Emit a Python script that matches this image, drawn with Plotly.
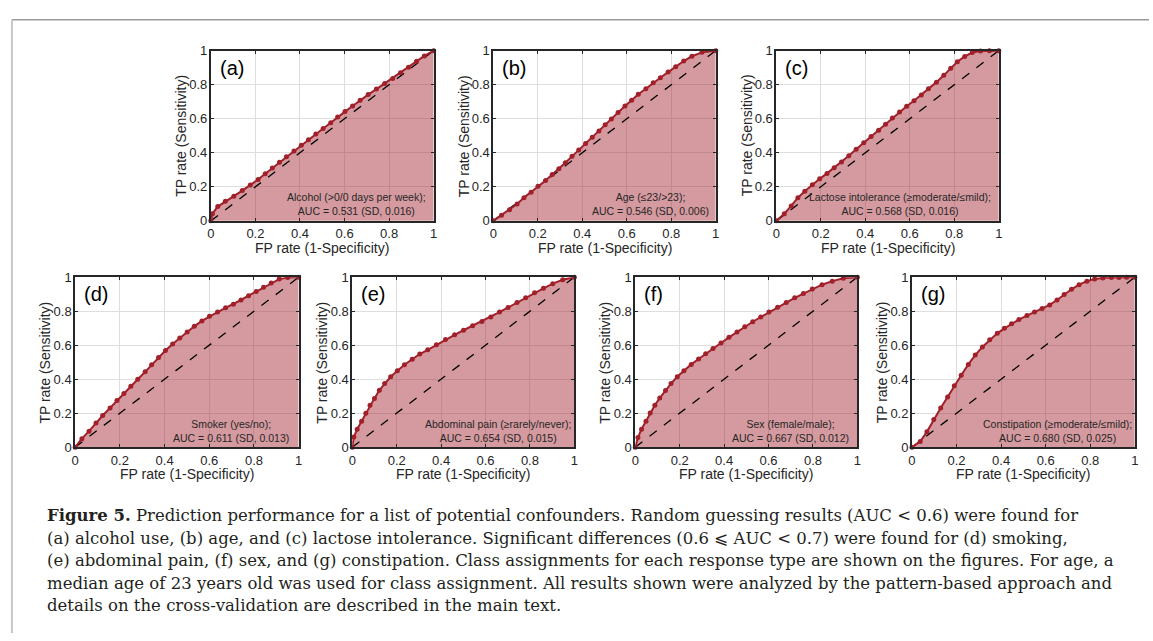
import plotly.graph_objects as go

W, H = 1153, 641

# ---------------- data ----------------
PANEL_LABELS = ["(a)", "(b)", "(c)", "(d)", "(e)", "(f)", "(g)"]
PANEL_NOTES = [
    "Alcohol (>0/0 days per week);<br>AUC = 0.531 (SD, 0.016)",
    "Age (≤23/>23);<br>AUC = 0.546 (SD, 0.006)",
    "Lactose intolerance (≥moderate/≤mild);<br>AUC = 0.568 (SD, 0.016)",
    "Smoker (yes/no);<br>AUC = 0.611 (SD, 0.013)",
    "Abdominal pain (≥rarely/never);<br>AUC = 0.654 (SD, 0.015)",
    "Sex (female/male);<br>AUC = 0.667 (SD, 0.012)",
    "Constipation (≥moderate/≤mild);<br>AUC = 0.680 (SD, 0.025)",
]

FPR_A = [0, 0.007, 0.031, 0.065, 0.103, 0.141, 0.177, 0.212, 0.244, 0.276, 0.308, 0.339, 0.373, 0.406, 0.438, 0.471,
         0.504, 0.538, 0.569, 0.602, 0.636, 0.670, 0.706, 0.743, 0.780, 0.816, 0.851, 0.887, 0.923, 0.958, 1.0]
TPR_A = [0, 0.042, 0.084, 0.115, 0.145, 0.178, 0.210, 0.243, 0.277, 0.310, 0.344, 0.377, 0.411, 0.444, 0.476, 0.511,
         0.543, 0.576, 0.610, 0.642, 0.675, 0.709, 0.742, 0.774, 0.807, 0.837, 0.870, 0.902, 0.937, 0.969, 1.0]

FPR_B = [0, 0.037, 0.073, 0.107, 0.138, 0.170, 0.201, 0.235, 0.265, 0.295, 0.324, 0.354, 0.384, 0.415, 0.445, 0.475,
         0.503, 0.531, 0.561, 0.592, 0.622, 0.652, 0.686, 0.719, 0.751, 0.786, 0.820, 0.856, 0.893, 0.938, 1.0]
TPR_B = [0, 0.033, 0.065, 0.099, 0.136, 0.168, 0.203, 0.237, 0.272, 0.306, 0.342, 0.379, 0.417, 0.455, 0.491, 0.528,
         0.564, 0.598, 0.637, 0.675, 0.709, 0.744, 0.776, 0.811, 0.841, 0.874, 0.906, 0.939, 0.967, 0.990, 1.0]

FPR_C = [0, 0.036, 0.067, 0.097, 0.128, 0.162, 0.195, 0.228, 0.260, 0.293, 0.326, 0.359, 0.393, 0.426, 0.460, 0.491,
         0.522, 0.554, 0.586, 0.619, 0.652, 0.684, 0.720, 0.753, 0.784, 0.814, 0.847, 0.881, 0.918, 0.958, 1.0]
TPR_C = [0, 0.042, 0.088, 0.136, 0.174, 0.212, 0.247, 0.279, 0.312, 0.346, 0.382, 0.421, 0.459, 0.495, 0.532, 0.568,
         0.604, 0.639, 0.673, 0.706, 0.740, 0.776, 0.815, 0.855, 0.897, 0.935, 0.966, 0.989, 0.998, 1.0, 1.0]

FPR_D = [0, 0.030, 0.062, 0.093, 0.123, 0.156, 0.187, 0.218, 0.249, 0.280, 0.313, 0.342, 0.373, 0.404, 0.436, 0.468,
         0.501, 0.533, 0.567, 0.601, 0.637, 0.673, 0.708, 0.742, 0.776, 0.810, 0.843, 0.877, 0.913, 0.951, 1.0]
TPR_D = [0, 0.050, 0.094, 0.142, 0.186, 0.230, 0.274, 0.316, 0.358, 0.400, 0.443, 0.485, 0.527, 0.569, 0.607, 0.642,
         0.678, 0.711, 0.743, 0.770, 0.795, 0.820, 0.841, 0.866, 0.891, 0.916, 0.941, 0.966, 0.989, 0.998, 1.0]

FPR_E = [0, 0.007, 0.022, 0.042, 0.061, 0.080, 0.100, 0.122, 0.146, 0.173, 0.203, 0.235, 0.270, 0.304, 0.340, 0.379,
         0.420, 0.461, 0.501, 0.542, 0.584, 0.624, 0.663, 0.702, 0.742, 0.781, 0.821, 0.861, 0.903, 0.948, 1.0]
TPR_E = [0, 0.059, 0.105, 0.153, 0.199, 0.247, 0.287, 0.335, 0.374, 0.414, 0.450, 0.485, 0.517, 0.548, 0.573, 0.603,
         0.634, 0.661, 0.688, 0.715, 0.739, 0.766, 0.795, 0.822, 0.851, 0.879, 0.908, 0.935, 0.962, 0.985, 1.0]

FPR_F = [0, 0.012, 0.028, 0.048, 0.067, 0.088, 0.110, 0.136, 0.161, 0.189, 0.219, 0.252, 0.285, 0.317, 0.350, 0.386,
         0.422, 0.458, 0.493, 0.529, 0.565, 0.602, 0.641, 0.680, 0.718, 0.757, 0.797, 0.841, 0.887, 0.937, 1.0]
TPR_F = [0, 0.057, 0.105, 0.153, 0.201, 0.247, 0.289, 0.333, 0.374, 0.414, 0.450, 0.487, 0.519, 0.550, 0.580, 0.613,
         0.646, 0.678, 0.709, 0.738, 0.766, 0.795, 0.824, 0.851, 0.879, 0.904, 0.931, 0.956, 0.977, 0.994, 1.0]

FPR_G = [0, 0.037, 0.067, 0.098, 0.129, 0.160, 0.190, 0.221, 0.253, 0.284, 0.316, 0.349, 0.383, 0.415, 0.447, 0.480,
         0.516, 0.550, 0.584, 0.618, 0.651, 0.683, 0.716, 0.750, 0.785, 0.820, 0.857, 0.895, 0.929, 0.963, 1.0]
TPR_G = [0, 0.033, 0.090, 0.163, 0.230, 0.295, 0.362, 0.423, 0.487, 0.542, 0.590, 0.632, 0.670, 0.699, 0.726, 0.751,
         0.774, 0.795, 0.816, 0.837, 0.866, 0.898, 0.929, 0.956, 0.977, 0.989, 0.996, 0.998, 0.998, 1.0, 1.0]

CHANCE_X = [0, 1]
CHANCE_Y = [0, 1]

TICK_VALS = [0, 0.2, 0.4, 0.6, 0.8, 1]
TICK_TEXT = ["0", "0.2", "0.4", "0.6", "0.8", "1"]

X_TITLE = "FP rate (1-Specificity)"
Y_TITLE = "TP rate (Sensitivity)"

CAPTION_LINES = [
    "<b>Figure 5.</b> Prediction performance for a list of potential confounders. Random guessing results (AUC &lt; 0.6) were found for",
    "(a) alcohol use, (b) age, and (c) lactose intolerance. Significant differences (0.6 ⩽ AUC &lt; 0.7) were found for (d) smoking,",
    "(e) abdominal pain, (f) sex, and (g) constipation. Class assignments for each response type are shown on the figures. For age, a",
    "median age of 23 years old was used for class assignment. All results shown were analyzed by the pattern-based approach and",
    "details on the cross-validation are described in the main text.",
]

FPRS = [FPR_A, FPR_B, FPR_C, FPR_D, FPR_E, FPR_F, FPR_G]
TPRS = [TPR_A, TPR_B, TPR_C, TPR_D, TPR_E, TPR_F, TPR_G]

# ---------------- layout (pixel boxes of each axes) ----------------
BOXES = [  # left, right, top, bottom in px
    (208.3, 432.7, 44.7, 219.0),
    (492.7, 716.7, 44.7, 219.0),
    (777.7, 1001.7, 44.7, 219.0),
    (71.7, 296.7, 276.7, 450.7),
    (350.7, 574.3, 276.7, 450.7),
    (635.7, 859.3, 276.7, 450.7),
    (914.3, 1138.7, 276.7, 450.7),
]
NOTE_RIGHT = [0.973, 0.978, 0.975, 0.967, 0.993, 0.973, 0.996]

LINE_COL = "#a2202a"
FILL_COL = "rgba(162,32,42,0.45)"
AX_COL = "#262626"
SANS = "Liberation Sans, Arial, sans-serif"
SERIF = "DejaVu Serif, serif"

fig = go.Figure()
layout = dict(width=W, height=H, margin=dict(l=0, r=0, t=0, b=0), autosize=False,
              paper_bgcolor="white", plot_bgcolor="white", showlegend=False)
annotations = []

for i, (fpr, tpr) in enumerate(zip(FPRS, TPRS)):
    n = "" if i == 0 else str(i + 1)
    xa, ya = "x" + n, "y" + n
    l, r, t, b = BOXES[i]
    common = dict(range=[0, 1], showgrid=True, gridcolor="#dedede", gridwidth=1,
                  showline=True, linecolor=AX_COL, linewidth=1.8, mirror="ticks",
                  ticks="inside", ticklen=3, tickwidth=1, tickcolor=AX_COL,
                  tickvals=TICK_VALS, ticktext=TICK_TEXT, zeroline=False,
                  tickfont=dict(family=SANS, size=13, color=AX_COL), fixedrange=True)
    layout["xaxis" + n] = dict(common, domain=[l / W, r / W], anchor=ya)
    layout["yaxis" + n] = dict(common, domain=[1 - b / H, 1 - t / H], anchor=xa,
                               ticklabelstandoff=-1)

    fig.add_trace(go.Scatter(x=fpr, y=tpr, mode="none", fill="tozeroy", fillcolor=FILL_COL,
                             xaxis=xa, yaxis=ya, hoverinfo="skip"))
    fig.add_trace(go.Scatter(x=CHANCE_X, y=CHANCE_Y, mode="lines",
                             line=dict(color="black", width=1.3, dash="dash"),
                             xaxis=xa, yaxis=ya, hoverinfo="skip"))
    fig.add_trace(go.Scatter(x=fpr, y=tpr, mode="lines+markers",
                             line=dict(color=LINE_COL, width=2),
                             marker=dict(color=LINE_COL, size=5),
                             cliponaxis=False, xaxis=xa, yaxis=ya))

    w_px, h_px = r - l, b - t
    annotations.append(dict(text=PANEL_LABELS[i], xref=xa + " domain", yref=ya + " domain",
                            x=0.03, y=0.9, xanchor="left", yanchor="middle", showarrow=False,
                            font=dict(family=SANS, size=20, color="black")))
    annotations.append(dict(text=PANEL_NOTES[i], xref=xa + " domain", yref=ya + " domain",
                            x=NOTE_RIGHT[i], y=0.097, xanchor="right", yanchor="middle",
                            align="center", showarrow=False,
                            font=dict(family=SANS, size=10.5, color=AX_COL)))
    annotations.append(dict(text=X_TITLE, xref=xa + " domain", yref=ya + " domain",
                            x=0.5, y=-28 / h_px, xanchor="center", yanchor="middle", showarrow=False,
                            font=dict(family=SANS, size=14, color=AX_COL)))
    annotations.append(dict(text=Y_TITLE, xref=xa + " domain", yref=ya + " domain",
                            x=-30 / w_px, y=0.5, xanchor="center", yanchor="middle", textangle=-90,
                            showarrow=False, font=dict(family=SANS, size=14, color=AX_COL)))

CAP_Y = [521, 544, 567, 590, 613]
for txt, yy in zip(CAPTION_LINES, CAP_Y):
    annotations.append(dict(text=txt, xref="paper", yref="paper", x=41 / W, y=1 - yy / H,
                            xanchor="left", yanchor="middle", showarrow=False,
                            font=dict(family=SERIF, size=16.5, color="#231f20")))

layout["annotations"] = annotations
layout["shapes"] = [
    dict(type="line", xref="paper", yref="paper", x0=8 / W, x1=1, y0=1 - 13 / H, y1=1 - 13 / H,
         line=dict(color="#9a9a9a", width=1.5)),
    dict(type="line", xref="paper", yref="paper", x0=8 / W, x1=8 / W, y0=0, y1=1 - 13 / H,
         line=dict(color="#c8c8c8", width=2)),
]
fig.update_layout(**layout)
fig.write_html("out.html")
